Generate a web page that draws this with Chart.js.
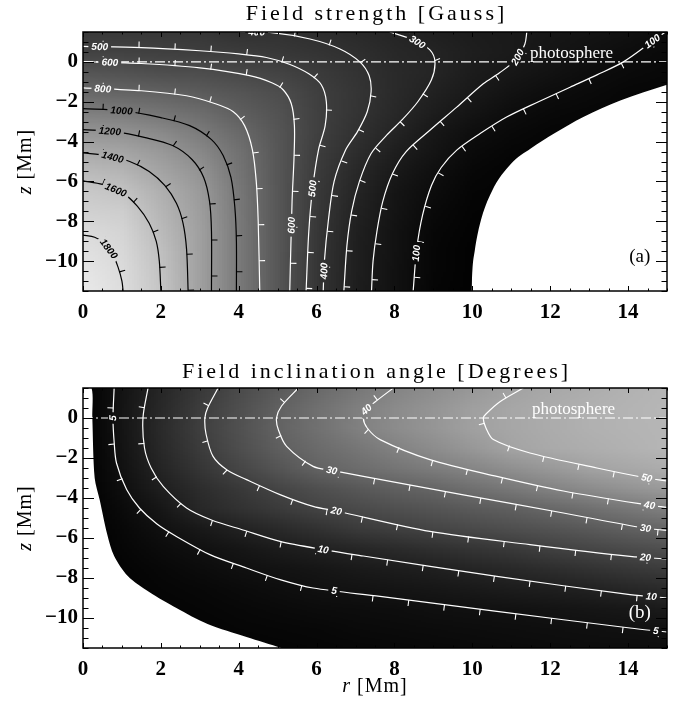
<!DOCTYPE html>
<html>
<head>
<meta charset="utf-8">
<script src="https://cdn.jsdelivr.net/npm/chart.js@4.4.1/dist/chart.umd.min.js"></script>
<style>
  html, body { margin: 0; padding: 0; background: #fff; }
  #wrap { position: relative; width: 686px; height: 702px; }
  canvas { position: absolute; left: 0; }
  #fieldChart { top: 0; }
  #inclChart { top: 340px; }
</style>
</head>
<body>
<div id="wrap">
  <canvas id="fieldChart" width="686" height="340"></canvas>
  <canvas id="inclChart" width="686" height="362"></canvas>
</div>
<script>
// axes
const rTicks = [0, 2, 4, 6, 8, 10, 12, 14];
const zTicks = [0, -2, -4, -6, -8, -10];
const photosphereZ = 0;

// nodes where the shading was sampled (r in Mm, z in Mm)
const rGrid = [0, 1, 2, 3, 4, 5, 6, 7, 8, 9, 10, 11, 12, 13, 14, 15];
const zGrid = [1.5, 0.5, -0.5, -1.5, -2.5, -3.5, -4.5, -5.5, -6.5, -7.5, -8.5, -9.5, -10.5, -11.5];

// field strength [G] at the nodes, one row per zGrid entry
const fieldGauss = [
  [470, 465, 455, 445, 400, 405, 375, 345, 300, 265, 230, 210, 185, 160, 135, 102],
  [540, 535, 520, 505, 490, 455, 425, 385, 330, 295, 245, 210, 170, 140, 108, 85],
  [690, 670, 640, 630, 590, 545, 480, 415, 345, 298, 230, 185, 145, 108, 85, 68],
  [850, 820, 795, 745, 690, 630, 515, 430, 345, 270, 205, 150, 108, 80, 60, 50],
  [1025, 1005, 950, 880, 770, 670, 525, 425, 325, 235, 160, 108, 75, 55, 45, 40],
  [1215, 1195, 1120, 1000, 860, 690, 520, 400, 290, 190, 115, 75, 50, 40, 30, 30],
  [1390, 1345, 1245, 1110, 920, 700, 500, 365, 245, 160, 80, 50, 35, 30, 25, 25],
  [1530, 1480, 1340, 1200, 950, 705, 480, 330, 200, 125, 55, 35, 30, 25, 20, 20],
  [1640, 1595, 1430, 1260, 970, 705, 465, 305, 175, 95, 40, 30, 25, 20, 20, 20],
  [1710, 1680, 1480, 1285, 980, 705, 455, 280, 160, 75, 30, 25, 20, 20, 20, 20],
  [1785, 1730, 1520, 1295, 985, 705, 445, 265, 150, 60, 25, 20, 20, 20, 20, 20],
  [1840, 1765, 1560, 1300, 985, 705, 440, 255, 145, 50, 20, 20, 20, 20, 20, 20],
  [1880, 1790, 1585, 1300, 985, 705, 435, 250, 140, 45, 20, 20, 20, 20, 20, 20],
  [1910, 1805, 1600, 1300, 985, 705, 430, 245, 135, 40, 20, 20, 20, 20, 20, 20]
];

// inclination [deg] at the nodes
const inclinationDeg = [
  [0, 6.1, 11.8, 17.4, 22.6, 27.4, 31.9, 36.0, 40.1, 43.1, 46.1, 49.1, 51, 52.5, 54, 55],
  [0, 6.4, 12.5, 18.5, 24, 29.5, 34, 38.4, 42.1, 45.2, 48.4, 50.5, 52, 53.5, 54.5, 55.5],
  [0, 6.3, 12.9, 19.1, 24.6, 30, 34.3, 38.7, 42.3, 45.5, 48.8, 50.7, 52.2, 53.5, 54.5, 55],
  [0, 6.1, 12.4, 18.2, 23.6, 28.7, 32.5, 35.9, 39.3, 42.8, 46.2, 49.7, 51.5, 52.8, 54, 55],
  [0, 5.6, 11.1, 16.3, 21.3, 25.7, 30, 32.6, 35.5, 38, 40.7, 43.7, 46.5, 49.4, 51, 52.5],
  [0, 4.5, 9.5, 13.5, 17.3, 21, 24, 26.6, 29.1, 31, 33.9, 36.8, 39.7, 42.4, 44.8, 47],
  [0, 3.4, 7.1, 12.1, 15, 17.9, 20.6, 22.3, 24.1, 25.8, 27.5, 29.1, 31.4, 34, 36.5, 39.2],
  [0, 2.5, 5, 7.6, 10.3, 12.8, 15.3, 17.8, 19.5, 20.8, 22.5, 24, 25.5, 27.3, 29.3, 31],
  [0, 1.7, 3.5, 5.2, 6.8, 8.4, 10, 11.5, 13, 14.6, 16, 17.6, 19.7, 21.3, 22.8, 24.2],
  [0, 1.2, 2.4, 3.6, 4.8, 5.8, 6.8, 8, 8.8, 9.8, 11.2, 12.5, 14, 15.5, 17, 18.4],
  [0, 0.9, 1.7, 2.5, 3.4, 4.3, 5.1, 5.8, 6.4, 7.1, 7.9, 8.8, 9.5, 10.2, 11.7, 13],
  [0, 0.6, 1.2, 1.8, 2.4, 3, 3.5, 3.9, 4.3, 4.8, 5.05, 5.5, 6, 6.7, 7.4, 8.2],
  [0, 0.4, 0.9, 1.3, 1.7, 2.1, 2.5, 2.9, 3.3, 3.7, 4, 4.3, 4.6, 4.8, 5, 5.4],
  [0, 0.3, 0.6, 0.9, 1.2, 1.5, 1.8, 2.1, 2.4, 2.7, 3, 3.3, 3.6, 3.8, 4, 4.2]
];

// field strength contours [r, z]
const b100 = [[15, 1.56], [14.65, 1.07], [13.88, 0.0], [13.2, -0.65], [12.51, -1.27], [11.7, -2.0], [10.88, -2.77], [10.2, -3.6], [9.6, -4.43], [9.2, -5.3], [8.95, -6.2], [8.72, -7.7], [8.57, -9.4], [8.48, -11.5]];
const b200 = [[11.4, 1.5], [11.35, 0.9], [11.14, 0.15], [10.7, -0.55], [10.28, -1.1], [9.6, -2.27], [8.91, -3.43], [8.3, -4.5], [7.95, -5.6], [7.7, -7.0], [7.55, -8.5], [7.45, -10.0], [7.41, -11.5]];
const b300 = [[7.88, 1.5], [8.5, 1.1], [8.91, 0.6], [9.04, 0.0], [8.95, -0.9], [8.6, -2.0], [8.2, -2.9], [7.8, -3.68], [7.4, -4.6], [7.1, -6.0], [6.9, -7.5], [6.78, -9.2], [6.7, -11.5]];
const b400 = [[4.0, 1.5], [4.8, 1.48], [5.83, 1.15], [6.6, 0.65], [7.11, 0.0], [7.35, -0.7], [7.4, -1.5], [7.3, -2.5], [7.05, -3.5], [6.75, -4.4], [6.45, -6.0], [6.3, -8.0], [6.2, -10.0], [6.17, -11.5]];
const b500 = [[0, 0.78], [1.5, 0.72], [3.0, 0.56], [4.0, 0.4], [4.71, 0.22], [5.3, -0.12], [5.8, -0.6], [6.12, -1.15], [6.25, -2.0], [6.22, -3.2], [6.05, -4.4], [5.9, -6.3], [5.8, -8.5], [5.73, -11.5]];
const b600 = [[0, 0.02], [1.5, -0.08], [3.0, -0.3], [4.28, -0.69], [4.85, -1.05], [5.14, -1.4], [5.35, -2.1], [5.43, -3.2], [5.42, -4.8], [5.37, -7.0], [5.31, -11.5]];
const b800 = [[0, -1.3], [1.5, -1.45], [2.66, -1.7], [3.4, -2.1], [3.86, -2.5], [4.15, -3.2], [4.35, -4.4], [4.45, -6.0], [4.5, -8.0], [4.54, -11.5]];
const b1000 = [[0, -2.35], [1.0, -2.45], [2.0, -2.8], [2.74, -3.2], [3.3, -3.9], [3.6, -4.7], [3.8, -5.8], [3.9, -7.3], [3.94, -9.0], [3.94, -11.5]];
const b1200 = [[0, -3.4], [0.8, -3.5], [1.6, -3.8], [2.3, -4.2], [2.8, -4.9], [3.1, -5.8], [3.25, -7.0], [3.3, -8.5], [3.3, -11.5]];
const b1400 = [[0, -4.57], [0.6, -4.7], [1.2, -5.0], [1.7, -5.5], [2.1, -6.2], [2.4, -7.1], [2.57, -8.1], [2.66, -9.4], [2.7, -11.5]];
const b1600 = [[0, -5.97], [0.5, -6.15], [1.0, -6.55], [1.4, -7.25], [1.7, -8.1], [1.88, -9.0], [1.96, -10.0], [2.0, -11.5]];
const b1800 = [[0, -8.7], [0.3, -8.8], [0.55, -9.1], [0.75, -9.6], [0.9, -10.3], [1.0, -11.0], [1.03, -11.5]];
const fieldLevels = [100, 200, 300, 400, 500, 600, 800, 1000, 1200, 1400, 1600, 1800];
const fieldLines = [b100, b200, b300, b400, b500, b600, b800, b1000, b1200, b1400, b1600, b1800];

// inclination contours [r, z]
const i5 = [[0.8, 1.5], [0.77, 0.0], [0.8, -1.2], [0.86, -2.25], [1.12, -3.58], [1.45, -4.5], [1.9, -5.3], [2.4, -5.92], [3.26, -6.83], [4.2, -7.5], [5.06, -8.08], [5.91, -8.5], [7.63, -8.92], [10.63, -9.67], [14.05, -10.5], [15, -10.7]];
const i10 = [[1.67, 1.5], [1.54, 0.0], [1.58, -1.5], [1.75, -2.5], [2.06, -3.42], [2.66, -4.5], [3.3, -5.1], [4.11, -5.6], [5.06, -6.17], [6.17, -6.58], [7.2, -6.9], [10.63, -7.92], [14.05, -8.83], [15, -9.0]];
const i20 = [[3.47, 1.5], [3.2, 0.5], [3.13, 0.0], [3.16, -0.8], [3.34, -1.92], [3.7, -2.6], [4.2, -3.08], [5.06, -3.83], [5.91, -4.42], [6.51, -4.65], [8.91, -5.67], [11.48, -6.33], [14.05, -6.92], [15, -7.05]];
const i30 = [[5.53, 1.5], [5.1, 0.6], [4.97, 0.0], [5.02, -0.6], [5.23, -1.42], [5.91, -2.42], [6.39, -2.62], [7.2, -2.92], [9.77, -3.84], [12.34, -4.75], [14.4, -5.5], [15, -5.62]];
const i40 = [[7.97, 1.5], [7.5, 0.8], [7.28, 0.42], [7.2, 0.0], [7.3, -0.5], [7.63, -1.08], [8.91, -2.08], [10.63, -2.92], [12.34, -3.65], [14.5, -4.35], [15, -4.47]];
const i50 = [[11.31, 1.5], [10.7, 0.8], [10.35, 0.2], [10.28, 0.0], [10.35, -0.5], [10.54, -1.08], [11.48, -1.75], [13.2, -2.5], [14.48, -3.0], [15, -3.15]];
const inclLevels = [5, 10, 20, 30, 40, 50];
const inclLines = [i5, i10, i20, i30, i40, i50];

// edges of the modelled region (outside is blank)
const outsideA = [[9.98, -11.5], [10.0, -10.5], [10.06, -9.5], [10.2, -8.1], [10.5, -6.5], [11.0, -5.1], [11.5, -4.35], [12.1, -3.6], [12.85, -2.77], [13.8, -1.94], [15, -1.15]];
const outsideB = [[0, 1.5], [0.22, 1.5], [0.24, 0.0], [0.3, -3.0], [0.43, -4.1], [0.62, -5.8], [0.8, -6.9], [1.15, -7.9], [1.7, -8.7], [2.4, -9.5], [3.2, -10.3], [4.2, -10.95], [5.1, -11.5]];

// where the contour values are written
const fieldLabels = [
  { level: 500, r: 0.43, z: 0.78 }, { level: 600, r: 0.69, z: 0.0 }, { level: 800, r: 0.51, z: -1.3 },
  { level: 1000, r: 0.99, z: -2.4 }, { level: 1200, r: 0.69, z: -3.45 }, { level: 1400, r: 0.77, z: -4.7 },
  { level: 1600, r: 0.86, z: -6.35 }, { level: 1800, r: 0.62, z: -9.45 }, { level: 400, r: 4.46, z: 1.45 },
  { level: 300, r: 8.62, z: 1.1 }, { level: 200, r: 11.2, z: 0.2 }, { level: 100, r: 14.62, z: 1.05 },
  { level: 600, r: 5.36, z: -8.2 }, { level: 500, r: 5.85, z: -6.35 }, { level: 400, r: 6.2, z: -10.5 },
  { level: 100, r: 8.56, z: -9.6 }
];
const inclLabels = [
  { level: 5, r: 0.77, z: 0.0 }, { level: 40, r: 7.28, z: 0.42 }, { level: 30, r: 6.39, z: -2.62 },
  { level: 20, r: 6.51, z: -4.65 }, { level: 10, r: 6.17, z: -6.58 }, { level: 5, r: 6.45, z: -8.6 },
  { level: 50, r: 14.48, z: -3.0 }, { level: 40, r: 14.55, z: -4.38 }, { level: 30, r: 14.45, z: -5.5 },
  { level: 20, r: 14.45, z: -6.95 }, { level: 10, r: 14.6, z: -8.88 }, { level: 5, r: 14.72, z: -10.58 }
];

const SERIF = '"Liberation Serif", "Times New Roman", serif';

function toXY(arr) {
  return arr.map(p => ({ x: p[0], y: p[1] }));
}

function fmtTick(v) {
  return v < 0 ? '\u2212' + Math.abs(v) : String(v);
}

// small image of the sampled grey values, scaled up smoothly onto the plot
function buildShade(values, toGray) {
  const off = document.createElement('canvas');
  off.width = rGrid.length;
  off.height = zGrid.length;
  const c = off.getContext('2d');
  const img = c.createImageData(off.width, off.height);
  values.forEach((row, j) => row.forEach((v, i) => {
    const g = toGray(v);
    const k = (j * off.width + i) * 4;
    img.data[k] = img.data[k + 1] = img.data[k + 2] = g;
    img.data[k + 3] = 255;
  }));
  c.putImageData(img, 0, 0);
  return off;
}

function paintShade(chart, off) {
  const { ctx, scales: { x, y } } = chart;
  const dr = (rGrid[1] - rGrid[0]) / 2;
  const dz = (zGrid[0] - zGrid[1]) / 2;
  const x0 = x.getPixelForValue(rGrid[0] - dr);
  const x1 = x.getPixelForValue(rGrid[rGrid.length - 1] + dr);
  const y0 = y.getPixelForValue(zGrid[0] + dz);
  const y1 = y.getPixelForValue(zGrid[zGrid.length - 1] - dz);
  ctx.imageSmoothingEnabled = true;
  ctx.drawImage(off, x0, y0, x1 - x0, y1 - y0);
}

function clipArea(ctx, a) {
  ctx.beginPath();
  ctx.rect(a.left, a.top, a.right - a.left, a.bottom - a.top);
  ctx.clip();
}

// small downhill marks along a contour
function drawDownhillTicks(ctx, pts, side) {
  const spacing = 36, len = 6;
  let next = 20, acc = 0;
  for (let i = 1; i < pts.length; i++) {
    const ax = pts[i - 1].x, ay = pts[i - 1].y, bx = pts[i].x, by = pts[i].y;
    const seg = Math.hypot(bx - ax, by - ay);
    if (seg === 0) continue;
    while (acc + seg >= next) {
      const t = (next - acc) / seg;
      const px = ax + t * (bx - ax), py = ay + t * (by - ay);
      const nx = side * (by - ay) / seg, ny = -side * (bx - ax) / seg;
      ctx.moveTo(px, py);
      ctx.lineTo(px + nx * len, py + ny * len);
      next += spacing;
    }
    acc += seg;
  }
}

function nearestOnLine(pts, px, py) {
  let best = { d: Infinity, x: px, y: py, ang: 0 };
  for (let i = 1; i < pts.length; i++) {
    const ax = pts[i - 1].x, ay = pts[i - 1].y, bx = pts[i].x, by = pts[i].y;
    const dx = bx - ax, dy = by - ay;
    const l2 = dx * dx + dy * dy;
    if (!l2) continue;
    const t = Math.max(0, Math.min(1, ((px - ax) * dx + (py - ay) * dy) / l2));
    const qx = ax + t * dx, qy = ay + t * dy;
    const d = Math.hypot(px - qx, py - qy);
    if (d < best.d) best = { d, x: qx, y: qy, ang: Math.atan2(dy, dx) };
  }
  let a = best.ang;
  if (a >= Math.PI / 2 - 1e-3) a -= Math.PI;
  if (a < -Math.PI / 2 - 1e-3) a += Math.PI;
  best.ang = a;
  return best;
}

function makePanel(canvasId, p) {
  const shade = buildShade(p.grid, p.toGray);

  const datasets = [];
  const edge = {
    data: toXY(p.outside), showLine: true, pointRadius: 0, borderWidth: 0,
    borderColor: 'rgba(0,0,0,0)', backgroundColor: '#fff', fill: 'start', order: 5
  };
  if (p.edgeMonotone) edge.cubicInterpolationMode = 'monotone';
  else edge.tension = 0.3;
  datasets.push(edge);
  p.levels.forEach((lv, i) => {
    datasets.push({
      level: lv, data: toXY(p.lines[i]), showLine: true, pointRadius: 0, fill: false,
      borderColor: p.lineColor(lv), borderWidth: 1.2, tension: 0.3, order: 2
    });
  });
  datasets.push({
    data: [{ x: 0, y: photosphereZ }, { x: 15, y: photosphereZ }], showLine: true, pointRadius: 0,
    borderColor: '#fff', borderWidth: 1.2, borderDash: [10, 3, 2, 3], fill: false, order: 1
  });

  const panelPlugin = {
    id: 'panel_' + canvasId,
    beforeDatasetsDraw(chart) {
      const { ctx, chartArea } = chart;
      ctx.save();
      clipArea(ctx, chartArea);
      paintShade(chart, shade);
      ctx.restore();
    },
    afterDatasetsDraw(chart) {
      const { ctx, chartArea, scales: { x, y } } = chart;
      ctx.save();
      clipArea(ctx, chartArea);
      // downhill ticks
      chart.data.datasets.forEach((ds, i) => {
        if (ds.level === undefined) return;
        const pts = chart.getDatasetMeta(i).data;
        ctx.beginPath();
        drawDownhillTicks(ctx, pts, p.tickSide);
        ctx.strokeStyle = ds.borderColor;
        ctx.lineWidth = 1.1;
        ctx.stroke();
      });
      // labels, with the line cut under them
      ctx.font = 'italic bold 10px "Liberation Sans", Arial, sans-serif';
      p.labels.forEach(lb => {
        const idx = chart.data.datasets.findIndex(ds => ds.level === lb.level);
        const pts = chart.getDatasetMeta(idx).data;
        const q = nearestOnLine(pts, x.getPixelForValue(lb.r), y.getPixelForValue(lb.z));
        const text = String(lb.level);
        const w = ctx.measureText(text).width;
        const m = ctx.getTransform();
        ctx.save();
        ctx.translate(q.x, q.y);
        ctx.rotate(q.ang);
        ctx.beginPath();
        ctx.rect(-w / 2 - 3, -5, w + 6, 10);
        ctx.setTransform(m);
        ctx.clip();
        paintShade(chart, shade);
        ctx.translate(q.x, q.y);
        ctx.rotate(q.ang);
        ctx.fillStyle = p.lineColor(lb.level);
        ctx.textAlign = 'center';
        ctx.textBaseline = 'middle';
        ctx.fillText(text, 0, 0.5);
        ctx.restore();
      });
      ctx.restore();
    },
    afterDraw(chart) {
      const { ctx, chartArea: a, scales: { x, y } } = chart;
      ctx.save();
      // frame and inward ticks
      ctx.strokeStyle = '#000';
      ctx.lineWidth = 1.5;
      ctx.strokeRect(a.left, a.top, a.right - a.left, a.bottom - a.top);
      ctx.lineWidth = 1;
      ctx.beginPath();
      for (let v = x.min; v <= x.max + 1e-9; v += 0.5) {
        const px = Math.round(x.getPixelForValue(v)) + 0.5;
        const len = rTicks.includes(v) ? 5 : 2.5;
        ctx.moveTo(px, a.bottom); ctx.lineTo(px, a.bottom - len);
        ctx.moveTo(px, a.top); ctx.lineTo(px, a.top + len);
      }
      for (let v = y.min; v <= y.max + 1e-9; v += 0.5) {
        const py = Math.round(y.getPixelForValue(v)) + 0.5;
        const len = zTicks.includes(v) ? 11 : 5.5;
        ctx.moveTo(a.left, py); ctx.lineTo(a.left + len, py);
        ctx.moveTo(a.right, py); ctx.lineTo(a.right - len, py);
      }
      ctx.stroke();

      // photosphere note and panel tag
      ctx.textAlign = 'center';
      ctx.textBaseline = 'middle';
      ctx.fillStyle = '#fff';
      ctx.font = '17px ' + SERIF;
      ctx.fillText('photosphere', x.getPixelForValue(p.photoAt[0]), y.getPixelForValue(p.photoAt[1]));
      ctx.fillStyle = p.tagColor;
      ctx.font = '19px ' + SERIF;
      ctx.fillText(p.tag, x.getPixelForValue(p.tagAt[0]), y.getPixelForValue(p.tagAt[1]));

      // title
      const cx = (a.left + a.right) / 2;
      ctx.fillStyle = '#000';
      ctx.font = '22px ' + SERIF;
      ctx.letterSpacing = '3px';
      ctx.fillText(p.title, cx + 1.5, p.titleY);

      // axis titles: italic symbol + unit
      const drawAxisTitle = (sym, cxx, cyy) => {
        ctx.font = 'italic 20px ' + SERIF;
        const w1 = ctx.measureText(sym).width;
        ctx.font = '20px ' + SERIF;
        const w2 = ctx.measureText(' [Mm]').width;
        const x0 = cxx - (w1 + w2) / 2;
        ctx.textAlign = 'left';
        ctx.font = 'italic 20px ' + SERIF;
        ctx.fillText(sym, x0, cyy);
        ctx.font = '20px ' + SERIF;
        ctx.fillText(' [Mm]', x0 + w1, cyy);
        ctx.textAlign = 'center';
      };
      ctx.letterSpacing = '1px';
      ctx.save();
      ctx.translate(26, (a.top + a.bottom) / 2);
      ctx.rotate(-Math.PI / 2);
      drawAxisTitle('z', 0, 0);
      ctx.restore();
      if (p.xTitleY) drawAxisTitle('r', cx, p.xTitleY);
      ctx.restore();
    }
  };

  const tickFont = { family: SERIF, size: 21, weight: 'bold' };
  return new Chart(document.getElementById(canvasId), {
    type: 'scatter',
    data: { datasets },
    options: {
      responsive: false,
      animation: false,
      events: [],
      layout: { padding: { top: p.padTop, right: 19, left: 0, bottom: 0 } },
      plugins: { legend: { display: false }, tooltip: { enabled: false }, title: { display: false } },
      scales: {
        x: {
          type: 'linear', min: 0, max: 15,
          grid: { display: false, drawTicks: false }, border: { display: false },
          afterBuildTicks: s => { s.ticks = rTicks.map(v => ({ value: v })); },
          afterFit: s => { s.height = p.xAxisH; },
          ticks: { font: tickFont, color: '#000', padding: 9, maxRotation: 0, autoSkip: false, callback: fmtTick }
        },
        y: {
          type: 'linear', min: -11.5, max: 1.5,
          grid: { display: false, drawTicks: false }, border: { display: false },
          afterBuildTicks: s => { s.ticks = zTicks.map(v => ({ value: v })); },
          afterFit: s => { s.width = 83; },
          ticks: { font: tickFont, color: '#000', padding: 5, autoSkip: false, callback: fmtTick }
        }
      }
    },
    plugins: [panelPlugin]
  });
}

document.addEventListener('DOMContentLoaded', function() {
  makePanel('fieldChart', {
    grid: fieldGauss,
    toGray: v => Math.max(0, Math.min(255, Math.round(v * 0.1225))),
    levels: fieldLevels,
    lines: fieldLines,
    lineColor: lv => (lv >= 1000 ? '#000' : '#fff'),
    tickSide: 1,
    outside: outsideA,
    edgeMonotone: true,
    labels: fieldLabels,
    title: 'Field strength [Gauss]',
    titleY: 14,
    padTop: 32,
    xAxisH: 49,
    xTitleY: null,
    photoAt: [12.55, 0.42],
    tag: '(a)', tagAt: [14.3, -9.77], tagColor: '#000'
  });

  makePanel('inclChart', {
    grid: inclinationDeg,
    toGray: v => Math.max(0, Math.min(255, Math.round(v * 3.3))),
    levels: inclLevels,
    lines: inclLines,
    lineColor: () => '#fff',
    tickSide: -1,
    outside: outsideB,
    edgeMonotone: false,
    labels: inclLabels,
    title: 'Field inclination angle [Degrees]',
    titleY: 32,
    padTop: 48,
    xAxisH: 54,
    xTitleY: 347,
    photoAt: [12.6, 0.42],
    tag: '(b)', tagAt: [14.3, -9.75], tagColor: '#fff'
  });
});
</script>
</body>
</html>
